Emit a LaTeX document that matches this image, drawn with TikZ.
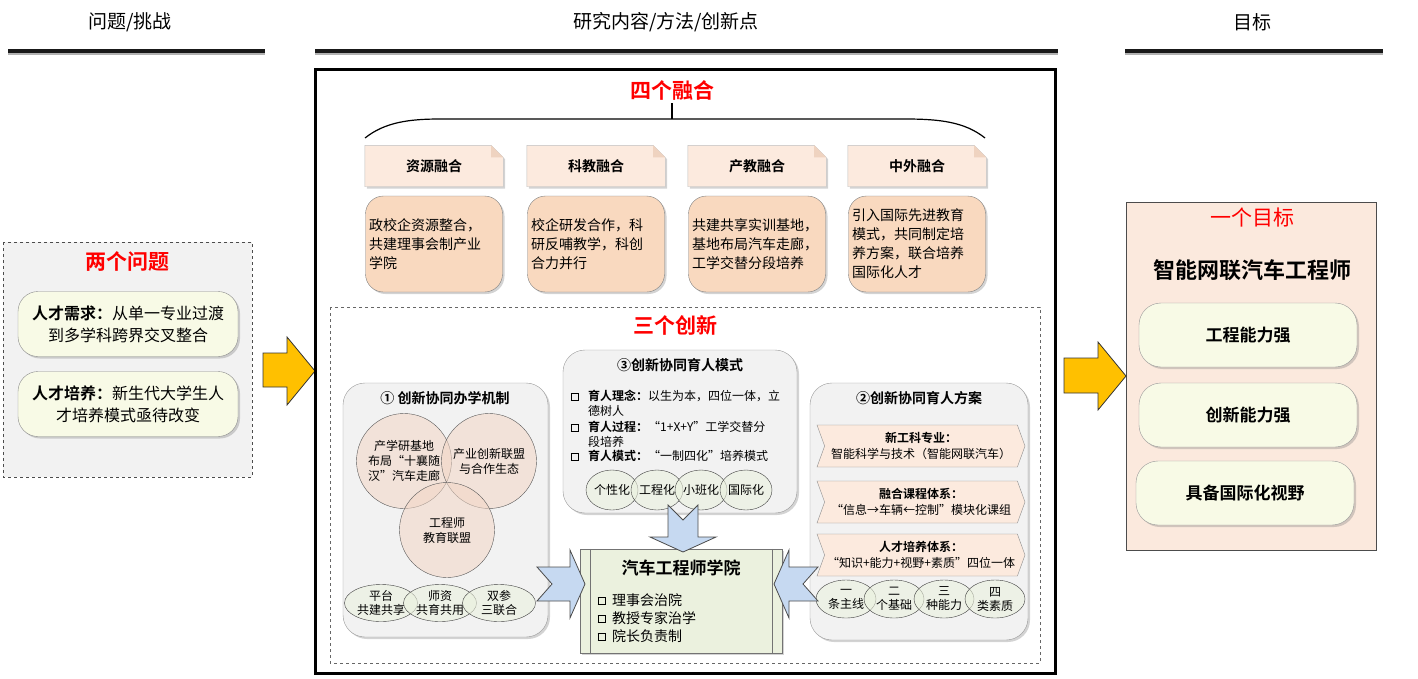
\documentclass[tikz,border=0pt]{standalone}
\usepackage{fontspec}
\usepackage{amssymb}
\setmainfont{Noto Sans CJK SC}[BoldFont={Noto Sans CJK SC Bold}]
\usetikzlibrary{shapes.geometric,shapes.symbols,shadows}

\definecolor{panelgray}{HTML}{F2F2F2}
\definecolor{headpeach}{HTML}{FCEADE}
\definecolor{foldpeach}{HTML}{EFD3C0}
\definecolor{bodypeach}{HTML}{F9D9BF}
\definecolor{paleyel}{HTML}{F8FAE6}
\definecolor{palegreen}{HTML}{EBF1DE}
\definecolor{arrowblue}{HTML}{C6D9F1}
\definecolor{arrowgold}{HTML}{FFC000}
\definecolor{goalpeach}{HTML}{FBE9DD}
\definecolor{ringpeach}{HTML}{F2D6C6}
\newcommand{\fsz}[2]{\fontsize{#1}{#2}\selectfont}
\newcommand{\bulbox}{{\setlength{\fboxsep}{0pt}\setlength{\fboxrule}{1.2pt}\raisebox{0.15ex}{\fbox{\rule{0pt}{6pt}\rule{6pt}{0pt}}}}}

\begin{document}
\begin{tikzpicture}[x=1pt,y=-1pt,
  hdtext/.style={font=\fsz{19}{22}},
  redhead/.style={font=\bfseries\fsz{21}{24},text=red},
  shade box/.style={drop shadow={opacity=.35,shadow xshift=2pt,shadow yshift=-2pt}},
  probbox/.style={draw=black!45,fill=paleyel,rounded corners=20pt,minimum width=220pt,minimum height=65pt,text width=208pt,align=center,font=\fsz{16}{22},shade box},
  fusehead/.style={minimum width=138pt,minimum height=41pt,inner sep=0pt},
  fusebody/.style={draw=black!50,fill=bodypeach,rounded corners=18pt,minimum width=137pt,minimum height=96pt,text width=130pt,inner sep=3pt,align=left,font=\fsz{14}{19},shade box},
  panel/.style={draw=black!40,fill=panelgray,rounded corners=22pt,shade box},
  ring/.style={circle,draw=black!65,fill=ringpeach,fill opacity=.55,text opacity=1,minimum size=95pt,inner sep=0pt,align=center,font=\fsz{12}{15}},
  oval/.style={ellipse,draw=black!75,fill=palegreen,fill opacity=.6,text opacity=1,inner sep=0pt,align=center,font=\fsz{12}{14}},
  chev/.style={signal,signal from=west,signal to=east,signal pointer angle=140,draw=black!45,fill=headpeach,minimum width=208pt,minimum height=42pt,inner sep=0pt,align=center,font=\fsz{12}{16}},
  goalbox/.style={draw=black!40,fill=paleyel,rounded corners=22pt,minimum width=218pt,minimum height=64pt,font=\bfseries\fsz{17}{20},shade box},
  bluearr/.style={draw=black!70,fill=arrowblue,line width=0.8pt},
  goldarr/.style={draw=black!80,fill=arrowgold,line width=0.8pt}]
\useasboundingbox (0,0) rectangle (1418,678);

\node[hdtext] (hq) at (130,22) {问题/挑战};
\node[hdtext] (hm) at (666,22) {研究内容/方法/创新点};
\node[hdtext] (hg) at (1252,22) {目标};
\foreach \a/\b in {8/265,315/1058,1125/1383}{
  \draw[line width=4pt,black!30] (\a,53) -- (\b,53);
  \draw[line width=3.5pt,black!90] (\a,51) -- (\b,51);
}

\draw[dashed,draw=black!70,fill=panelgray,line width=1pt] (3,242) rectangle (252,477);
\node[redhead] (two) at (127,262) {两个问题};
\node[probbox] (p1) at (128,324) {\textbf{人才需求：}从单一专业过渡\\到多学科跨界交叉整合};
\node[probbox] (p2) at (128,404) {\textbf{人才培养：}新生代大学生人\\才培养模式亟待改变};

\draw[goldarr] (263,353) -- (287,353) -- (287,337) -- (315,371) -- (287,405) -- (287,387) -- (263,387) -- cycle;

\draw[line width=3pt] (315,69) rectangle (1055,673);
\node[redhead] (four) at (672,90) {四个融合};
\draw[line width=1.2pt] (365,138) .. controls (385,122) and (410,119) .. (440,119) -- (905,119) .. controls (940,119) and (965,122) .. (985,138);
\draw[line width=1.2pt] (four.south) -- (672,119);

\foreach \cx/\hname/\body [count=\i] in {434/资源融合/{政校企资源整合，\\共建理事会制产业\\学院},596/科教融合/{校企研发合作，科\\研反哺教学，科创\\合力并行},757/产教融合/{共建共享实训基地，\\基地布局汽车走廊，\\工学交替分段培养},917/中外融合/{引入国际先进教育\\模式，共同制定培\\养方案，联合培养\\国际化人才}}{
  \node[fusehead] (h\i) at (\cx,166) {};
  \draw[draw=black!25,fill=headpeach,shade box] (h\i.north west) -- ([xshift=-12pt]h\i.north east) -- ([yshift=-12pt]h\i.north east) -- (h\i.south east) -- (h\i.south west) -- cycle;
  \fill[foldpeach] ([xshift=-12pt]h\i.north east) -- ([xshift=-12pt,yshift=-12pt]h\i.north east) -- ([yshift=-12pt]h\i.north east) -- cycle;
  \node[font=\bfseries\fsz{14}{16}] (ht\i) at (h\i) {\hname};
  \node[fusebody] (c\i) at (\cx,244) {\body};
}

\draw[dashed,black!60,line width=0.8pt] (330,307) rectangle (1040,663);
\node[redhead] (three) at (675,325) {三个创新};

\draw[panel] (343,383) rectangle (548,637);
\node[font=\bfseries\fsz{14}{16}] (m1) at (445,398) {① 创新协同办学机制};
\node[ring] (ra) at (404,461) {产学研基地\\布局“十襄随\\汉”汽车走廊};
\node[ring] (rb) at (489,461) {产业创新联盟\\与合作生态};
\node[ring] (rc) at (447,530) {工程师\\教育联盟};
\node[oval,minimum width=73pt,minimum height=37pt] (e1) at (381,603) {平台\\共建共享};
\node[oval,minimum width=73pt,minimum height=37pt] (e2) at (440,603) {师资\\共育共用};
\node[oval,minimum width=73pt,minimum height=37pt] (e3) at (499,603) {双参\\三联合};

\draw[panel] (563,350) rectangle (797,513);
\node[font=\bfseries\fsz{14}{16}] (m3) at (680,365) {③创新协同育人模式};
\foreach \yy/\txt [count=\i] in {390/{\textbf{育人理念：}以生为本，四位一体，立\\德树人},421/{\textbf{育人过程：}“1+X+Y”工学交替分\\段培养},450/{\textbf{育人模式：}“一制四化”培养模式}}{
  \node[inner sep=0pt] (sq\i) at (575,\yy+7) {\bulbox};
  \node[anchor=north west,align=left,inner sep=0pt,font=\fsz{12}{15}] (bt\i) at (588,\yy) {\txt};
}
\foreach \cx/\txt [count=\i] in {612/个性化,657/工程化,701/小班化,746/国际化}{
  \node[oval,minimum width=52pt,minimum height=40pt] (f\i) at (\cx,490) {\txt};
}

\draw[panel] (810,383) rectangle (1028,640);
\node[font=\bfseries\fsz{14}{16}] (m2) at (919,398) {②创新协同育人方案};
\node[chev] (s1) at (921,446) {\textbf{新工科专业：}\\智能科学与技术（智能网联汽车）};
\node[chev] (s2) at (921,502) {\textbf{融合课程体系：}\\“信息→车辆←控制”模块化课组};
\node[chev] (s3) at (921,555) {\textbf{人才培养体系：}\\“知识+能力+视野+素质”四位一体};
\foreach \cx/\txt [count=\i] in {846/{一\\条主线},894/{二\\个基础},944/{三\\种能力},995/{四\\类素质}}{
  \node[oval,minimum width=60pt,minimum height=38pt] (g\i) at (\cx,599) {\txt};
}

\node[draw=black!55,fill=palegreen,minimum width=202pt,minimum height=104pt,shade box] (acad) at (681,601) {};
\draw[black!55] ([xshift=10pt]acad.north west) -- ([xshift=10pt]acad.south west);
\draw[black!55] ([xshift=-10pt]acad.north east) -- ([xshift=-10pt]acad.south east);
\node[font=\bfseries\fsz{17}{20}] (acadt) at (681,568) {汽车工程师学院};
\node[anchor=west,align=left,font=\fsz{14}{18}] (acadb) at (594,618) {\bulbox\ \ 理事会治院\\\bulbox\ \ 教授专家治学\\\bulbox\ \ 院长负责制};

\draw[bluearr] (537,567) -- (570,567) -- (570,550) -- (585,584) -- (570,618) -- (570,601) -- (537,601) -- (552,584) -- cycle;
\draw[bluearr] (818,567) -- (789,567) -- (789,550) -- (774,584) -- (789,618) -- (789,601) -- (818,601) -- (803,584) -- cycle;
\draw[bluearr] (668,505) -- (683,520) -- (698,505) -- (698,537) -- (716,537) -- (683,552) -- (650,537) -- (668,537) -- cycle;

\draw[draw=black!70,fill=goalpeach] (1126,202) rectangle (1376,550);
\node[text=red,font=\fsz{21}{24}] (one) at (1252,217) {一个目标};
\node[font=\bfseries\fsz{22}{26}] (eng) at (1252,270) {智能网联汽车工程师};
\node[goalbox] (t1) at (1248,335) {工程能力强};
\node[goalbox] (t2) at (1248,415) {创新能力强};
\node[goalbox] (t3) at (1245,493) {具备国际化视野};

\draw[goldarr] (1064,358) -- (1098,358) -- (1098,342) -- (1126,376) -- (1098,410) -- (1098,393) -- (1064,393) -- cycle;
\end{tikzpicture}
\end{document}
